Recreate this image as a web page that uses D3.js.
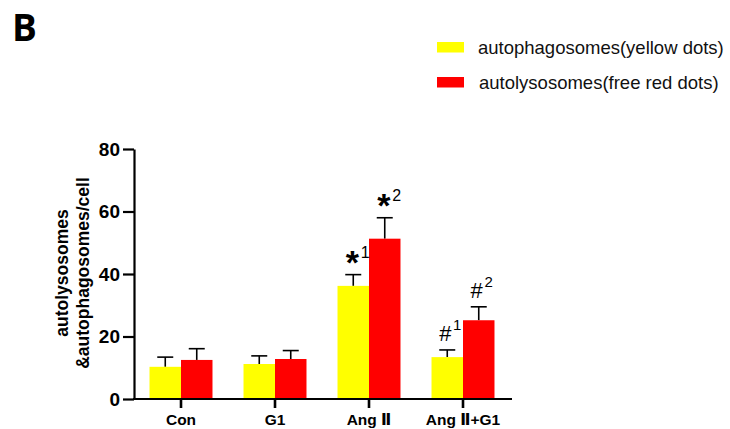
<!DOCTYPE html>
<html><head><meta charset="utf-8">
<script src="https://cdn.jsdelivr.net/npm/d3@7"></script>
<style>body{margin:0;background:#fff}svg{display:block}</style>
</head><body>
<svg id="c" width="730" height="429"></svg>
<script>
const categories = ["Con", "G1", "Ang \u2161", "Ang \u2161+G1"];
const seriesNames = ["autophagosomes(yellow dots)", "autolysosomes(free red dots)"];
const seriesColors = ["#ffff00", "#ff0000"];
const autophagosomes = [10.3, 11.2, 36.2, 13.4];
const autophagosomesErr = [3.1, 2.6, 3.6, 2.3];
const autolysosomes = [12.5, 12.8, 51.3, 25.2];
const autolysosomesErr = [3.6, 2.7, 6.7, 4.3];
const yTicks = [0, 20, 40, 60, 80];
const marks = [
  {cat: 2, series: 0, sym: "*", sup: "1"},
  {cat: 2, series: 1, sym: "*", sup: "2"},
  {cat: 3, series: 0, sym: "#", sup: "1"},
  {cat: 3, series: 1, sym: "#", sup: "2"}
];

const svg = d3.select("#c");
const y = d3.scaleLinear().domain([0, 80]).range([399, 149]);
const x = d3.scaleBand().domain(categories).range([134, 510]).paddingInner(0.33).paddingOuter(0.165);
const xs = d3.scaleBand().domain([0, 1]).range([0, x.bandwidth()]);

const values = [autophagosomes, autolysosomes];
const errs = [autophagosomesErr, autolysosomesErr];

// panel label
svg.append("text").attr("x", 12).attr("y", 41).attr("font-family", "Open Sans, Liberation Sans, sans-serif")
  .attr("font-weight", "bold").attr("font-size", 37).text("B");

// bars and error bars
values.forEach((vals, s) => {
  categories.forEach((c, i) => {
    const x0 = x(c) + xs(s), w = xs.bandwidth(), cx = x0 + w / 2;
    const top = vals[i] + errs[s][i];
    svg.append("line").attr("x1", cx).attr("x2", cx).attr("y1", y(vals[i])).attr("y2", y(top))
      .attr("stroke", "#000").attr("stroke-width", 1.6);
    svg.append("line").attr("x1", cx - 8).attr("x2", cx + 8).attr("y1", y(top)).attr("y2", y(top))
      .attr("stroke", "#000").attr("stroke-width", 1.6);
    svg.append("rect").attr("x", x0).attr("y", y(vals[i])).attr("width", w).attr("height", y(0) - y(vals[i]))
      .attr("fill", seriesColors[s]);
  });
});

// y axis
const ya = svg.append("g").attr("transform", "translate(134,0)")
  .call(d3.axisLeft(y).tickValues(yTicks).tickSize(11).tickSizeOuter(0).tickPadding(3));
ya.select(".domain").attr("stroke-width", 2.2);
ya.selectAll(".tick line").attr("stroke-width", 2.2);
ya.selectAll("text").attr("font-family", "Liberation Sans, Arial, sans-serif").attr("font-weight", "bold")
  .attr("font-size", 19).attr("fill", "#000");

// x axis
const xa = svg.append("g").attr("transform", "translate(0,399)")
  .call(d3.axisBottom(x).tickSize(9).tickSizeOuter(0).tickPadding(6));
xa.select(".domain").attr("d", "M133,0H512").attr("stroke-width", 2.2);
xa.selectAll(".tick line").attr("stroke-width", 2.6);
xa.selectAll("text").attr("font-family", "Liberation Sans, DejaVu Sans, sans-serif").attr("font-weight", "bold")
  .attr("font-size", 15.5).attr("fill", "#000");

// y title
const yt = svg.append("text").attr("transform", "translate(78,273) rotate(-90)")
  .attr("text-anchor", "middle").attr("font-family", "Liberation Sans, Arial, sans-serif")
  .attr("font-weight", "bold").attr("font-size", 17.5);
yt.append("tspan").attr("x", 0).attr("y", -10).text("autolysosomes");
yt.append("tspan").attr("x", 0).attr("y", 11).text("&autophagosomes/cell");

// significance marks
marks.forEach(m => {
  const c = categories[m.cat];
  const cx = x(c) + xs(m.series) + xs.bandwidth() / 2;
  const top = y(values[m.series][m.cat] + errs[m.series][m.cat]);
  const g = svg.append("g").attr("font-family", "Liberation Sans, Arial, sans-serif");
  if (m.sym === "*") {
    g.append("text").attr("x", cx - 1).attr("y", top - 1).attr("text-anchor", "middle")
      .attr("font-size", 34).attr("font-weight", "bold").text("*");
    g.append("text").attr("x", cx + 12).attr("y", top - 17).attr("text-anchor", "middle")
      .attr("font-size", 16).text(m.sup);
  } else {
    g.append("text").attr("x", cx - 2).attr("y", top - 9).attr("text-anchor", "middle")
      .attr("font-size", 22).text("#");
    g.append("text").attr("x", cx + 10).attr("y", top - 20).attr("text-anchor", "middle")
      .attr("font-size", 15).text(m.sup);
  }
});

// legend
seriesNames.forEach((n, s) => {
  const ly = [42, 77][s];
  svg.append("rect").attr("x", 437).attr("y", ly).attr("width", 27).attr("height", 10.5).attr("fill", seriesColors[s]);
  svg.append("text").attr("x", [478, 479][s]).attr("y", ly + 12).attr("font-family", "Liberation Sans, Arial, sans-serif")
    .attr("font-size", 18.5).attr("fill", "#111").text(n);
});
</script>
</body></html>
